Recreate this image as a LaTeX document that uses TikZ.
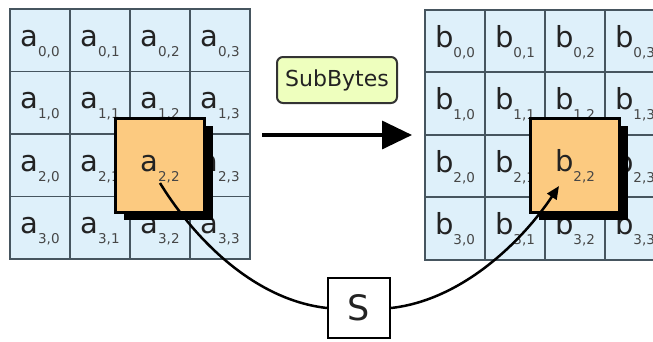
\documentclass[tikz,border=0pt]{standalone}
\usepackage{fontspec}
\setmainfont{DejaVu Sans}
\usetikzlibrary{arrows.meta}
\definecolor{cellfill}{RGB}{222,240,250}
\definecolor{gridline}{RGB}{70,85,95}
\definecolor{boxfill}{RGB}{252,202,128}
\definecolor{sbfill}{RGB}{238,255,190}
\definecolor{txt}{RGB}{35,35,35}
\definecolor{subtxt}{RGB}{70,70,70}
\newcommand\celltext[3]{{\fontsize{29}{29}\selectfont #1}\raisebox{-10pt}{\fontsize{13.5}{13.5}\selectfont\color{subtxt}#2,#3}}
\begin{document}
\begin{tikzpicture}[x=1pt,y=-1pt,
  cell/.style={draw=gridline,line width=1.8pt,fill=cellfill,minimum width=60pt,minimum height=62.5pt,inner sep=0pt,text=txt,text height=22pt,text depth=10pt},
  hibox/.style={draw=black,line width=3pt,fill=boxfill,minimum width=89pt,minimum height=94pt,inner sep=0pt,text=txt,text height=22pt,text depth=10pt},
  shadowbox/.style={fill=black,minimum width=89pt,minimum height=94pt,inner sep=0pt},
  opbox/.style={draw=black!80,line width=2pt,fill=sbfill,rounded corners=6pt,minimum width=120pt,minimum height=46pt,inner sep=0pt,text=txt,font=\fontsize{22}{22}\selectfont},
  sbox/.style={draw=black,line width=2pt,fill=white,minimum width=62pt,minimum height=60pt,inner sep=0pt,text=txt,font=\fontsize{35}{35}\selectfont},
  conn/.style={line width=2.5pt,draw=black}]
\useasboundingbox (0,0) rectangle (653,341);
\clip (0,0) rectangle (653,341);
\fill[white] (0,0) rectangle (653,341);
% left grid
\foreach \r in {0,...,3}{
  \foreach \c in {0,...,3}{
    \node[cell] (a-\r-\c) at ({40+60*\c},{40.25+62.5*\r}) {\celltext{a}{\r}{\c}};
  }
}
% right grid
\foreach \r in {0,...,3}{
  \foreach \c in {0,...,3}{
    \node[cell] (b-\r-\c) at ({455+60*\c},{41+62.5*\r}) {\celltext{b}{\r}{\c}};
  }
}
% highlighted boxes
\node[shadowbox] (ash) at (168,173) {};
\node[hibox] (abox) at (160,165) {\celltext{a}{2}{2}};
\node[shadowbox] (bsh) at (583,173) {};
\node[hibox] (bbox) at (575,165) {\celltext{b}{2}{2}};
% operation
\node[opbox] (op) at (337,80) {SubBytes};
\coordinate (arrS) at (262,135);
\coordinate (arrE) at (412,135);
\draw[line width=3.5pt,-{Triangle[length=30pt,width=28pt]}] (arrS) -- (arrE);
% S-box path
\node[sbox] (S) at (359,308) {S};
\coordinate (astart) at (160,183);
\coordinate (bend) at (559,186);
\draw[conn] (astart) .. controls (195,240) and (255,300) .. (S.west);
\draw[conn,-{Triangle[length=13pt,width=11pt]}] (S.east) .. controls (463,300) and (523,240) .. (bend);
\end{tikzpicture}
\end{document}
